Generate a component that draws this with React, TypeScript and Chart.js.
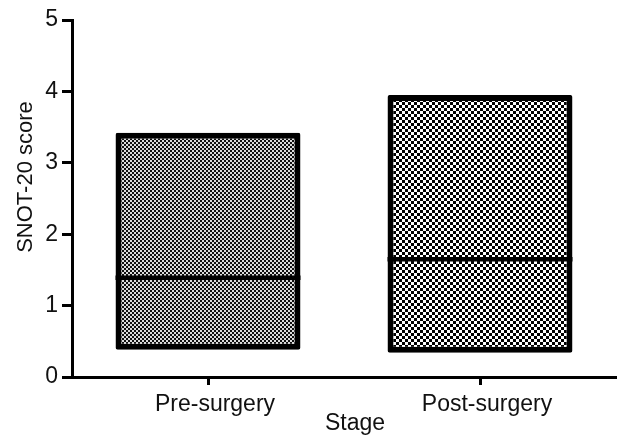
import React, { useEffect, useRef } from 'react';
import { Chart, registerables } from 'chart.js';

Chart.register(...registerables);

const categories = ['Pre-surgery', 'Post-surgery'];
const boxLow = [0.38, 0.34];
const boxHigh = [3.42, 3.95];
const medians = [1.39, 1.65];
const yTicks = [0, 1, 2, 3, 4, 5];
const yTitle = 'SNOT-20 score';
const xTitle = 'Stage';
const medianHalf = 0.032;

const FONT = '"Liberation Sans", Arial, Helvetica, sans-serif';

function checker(cell: number, dark: string, light: string) {
  const c = document.createElement('canvas');
  c.width = cell * 2;
  c.height = cell * 2;
  const g = c.getContext('2d')!;
  g.fillStyle = light;
  g.fillRect(0, 0, cell * 2, cell * 2);
  g.fillStyle = dark;
  g.fillRect(0, 0, cell, cell);
  g.fillRect(cell, cell, cell, cell);
  return g.createPattern(c, 'repeat');
}

export default function App() {
  const ref = useRef<HTMLCanvasElement>(null);

  useEffect(() => {
    const canvas = ref.current!;
    const prePattern = checker(2, '#111', '#dcdcdc');
    const postPattern = checker(3, '#000', '#ffffff');

    const titlePlugin = {
      id: 'axisTitles',
      afterDraw(chart: any) {
        const ctx = chart.ctx;
        ctx.save();
        ctx.fillStyle = '#111';
        ctx.font = `22px ${FONT}`;
        ctx.textAlign = 'center';
        ctx.textBaseline = 'middle';
        ctx.translate(26, 177);
        ctx.rotate(-Math.PI / 2);
        ctx.fillText(yTitle, 0, 0);
        ctx.restore();
        ctx.save();
        ctx.fillStyle = '#111';
        ctx.font = `23px ${FONT}`;
        ctx.textAlign = 'center';
        ctx.textBaseline = 'alphabetic';
        ctx.fillText(xTitle, 355, 430);
        ctx.restore();
      },
    };

    const chart = new Chart(canvas, {
      type: 'bar',
      data: {
        labels: categories,
        datasets: [
          {
            label: 'median',
            data: medians.map((m) => [m - medianHalf, m + medianHalf]) as any,
            backgroundColor: '#000',
            borderWidth: 0,
            grouped: false,
            barPercentage: 0.68,
            categoryPercentage: 1,
            order: 0,
          },
          {
            label: 'range',
            data: boxLow.map((lo, i) => [lo, boxHigh[i]]) as any,
            backgroundColor: [prePattern, postPattern] as any,
            borderColor: '#000',
            borderWidth: 6,
            borderSkipped: false,
            borderRadius: 2,
            grouped: false,
            barPercentage: 0.68,
            categoryPercentage: 1,
            order: 1,
          },
        ],
      },
      options: {
        responsive: false,
        animation: false,
        layout: { padding: { top: 20, right: 1, left: 0, bottom: 0 } },
        plugins: {
          legend: { display: false },
          tooltip: { enabled: false },
        },
        scales: {
          x: {
            type: 'category',
            offset: true,
            grid: {
              display: true,
              offset: false,
              drawOnChartArea: false,
              drawTicks: true,
              tickLength: 8,
              tickWidth: 3,
              tickColor: '#000',
            },
            border: { display: true, color: '#000', width: 3 },
            ticks: {
              color: '#111',
              font: { size: 23, family: FONT },
              labelOffset: 7,
              padding: 6,
              maxRotation: 0,
              autoSkip: false,
            },
            afterFit: (s: any) => {
              s.height = 59;
            },
          },
          y: {
            min: 0,
            max: 5,
            grid: {
              display: true,
              drawOnChartArea: false,
              drawTicks: true,
              tickLength: 10,
              tickWidth: 3,
              tickColor: '#000',
            },
            border: { display: true, color: '#000', width: 3 },
            ticks: {
              color: '#111',
              font: { size: 23, family: FONT },
              padding: 4,
            },
            afterBuildTicks: (s: any) => {
              s.ticks = yTicks.map((v) => ({ value: v }));
            },
            afterFit: (s: any) => {
              s.width = 72;
            },
          },
        },
      },
      plugins: [titlePlugin],
    });

    return () => chart.destroy();
  }, []);

  return (
    <div style={{ position: 'absolute', left: 0, top: 0, width: 617, height: 436, background: '#fff' }}>
      <canvas ref={ref} width={617} height={436} style={{ display: 'block' }} />
    </div>
  );
}
